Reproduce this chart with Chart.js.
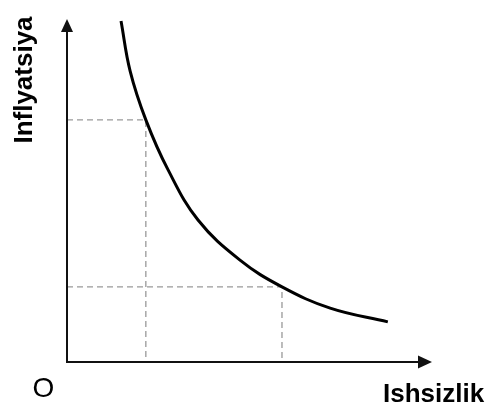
<!DOCTYPE html>
<html>
<head>
<meta charset="utf-8">
<script src="https://cdn.jsdelivr.net/npm/chart.js@4"></script>
<style>
    html, body { margin: 0; padding: 0; background: #fff; }
    #wrap { width: 488px; height: 406px; position: relative; }
</style>
</head>
<body>
<div id="wrap"><canvas id="phillips_graph"></canvas></div>
<script>
// egri chiziq nuqtalari (ishsizlik, inflyatsiya)
const curveX = [1.48, 1.73, 2.16, 2.77, 3.59, 4.74, 5.89, 7.21, 8.79];
const curveY = [9.94, 8.48, 7.06, 5.60, 4.14, 2.97, 2.19, 1.57, 1.17];
// punktir chiziqlar uchun ikki nuqta
const markX = [2.16, 5.89];
const markY = [7.06, 2.19];
const xLabel = 'Ishsizlik';
const yLabel = 'Inflyatsiya';
const originLabel = 'O';

const axesPlugin = {
    id: 'axesPlugin',
    afterDatasetsDraw: function (chart) {
        const ctx = chart.ctx;
        const x = chart.scales.x;
        const y = chart.scales.y;
        const x0 = x.getPixelForValue(0);
        const y0 = y.getPixelForValue(0);
        const xEnd = x.getPixelForValue(10);
        const yEnd = y.getPixelForValue(10);
        ctx.save();
        ctx.strokeStyle = '#111';
        ctx.fillStyle = '#111';
        ctx.lineWidth = 2;
        ctx.beginPath();
        ctx.moveTo(x0, yEnd + 10);
        ctx.lineTo(x0, y0);
        ctx.lineTo(xEnd - 10, y0);
        ctx.stroke();
        // strelkalar
        ctx.beginPath();
        ctx.moveTo(x0, yEnd);
        ctx.lineTo(x0 - 6, yEnd + 13);
        ctx.lineTo(x0 + 6, yEnd + 13);
        ctx.closePath();
        ctx.fill();
        ctx.beginPath();
        ctx.moveTo(xEnd, y0);
        ctx.lineTo(xEnd - 14, y0 - 6.5);
        ctx.lineTo(xEnd - 14, y0 + 6.5);
        ctx.closePath();
        ctx.fill();

        ctx.fillStyle = '#000';
        ctx.textBaseline = 'alphabetic';
        ctx.font = 'bold 26px "Liberation Sans", Arial, sans-serif';
        ctx.textAlign = 'left';
        ctx.fillText(xLabel, 383, 402);
        ctx.font = '28px "Liberation Sans", Arial, sans-serif';
        ctx.textAlign = 'center';
        ctx.fillText(originLabel, 43.5, 397);
        ctx.translate(32, 80);
        ctx.rotate(-Math.PI / 2);
        ctx.font = 'bold 26px "Liberation Sans", Arial, sans-serif';
        ctx.fillText(yLabel, 0, 0);
        ctx.restore();
    }
};

const curveData = curveX.map(function (v, i) {
    return { x: v, y: curveY[i] };
});
const dashSets = markX.map(function (v, i) {
    return {
        data: [{ x: 0, y: markY[i] }, { x: v, y: markY[i] }, { x: v, y: 0 }],
        showLine: true,
        borderColor: '#999',
        borderWidth: 1.3,
        borderDash: [6, 4],
        pointRadius: 0,
        tension: 0,
        fill: false,
        order: 2
    };
});

new Chart(document.getElementById('phillips_graph'), {
    type: 'scatter',
    data: {
        datasets: [{
            data: curveData,
            showLine: true,
            borderColor: '#000',
            borderWidth: 3,
            pointRadius: 0,
            tension: 0.4,
            fill: false,
            order: 1
        }].concat(dashSets)
    },
    options: {
        responsive: true,
        maintainAspectRatio: false,
        animation: false,
        layout: {
            padding: { left: 67, right: 56, top: 19, bottom: 44 }
        },
        plugins: {
            legend: { display: false },
            tooltip: { enabled: false }
        },
        scales: {
            x: { type: 'linear', min: 0, max: 10, display: false },
            y: { type: 'linear', min: 0, max: 10, display: false }
        }
    },
    plugins: [axesPlugin]
});
</script>
</body>
</html>
